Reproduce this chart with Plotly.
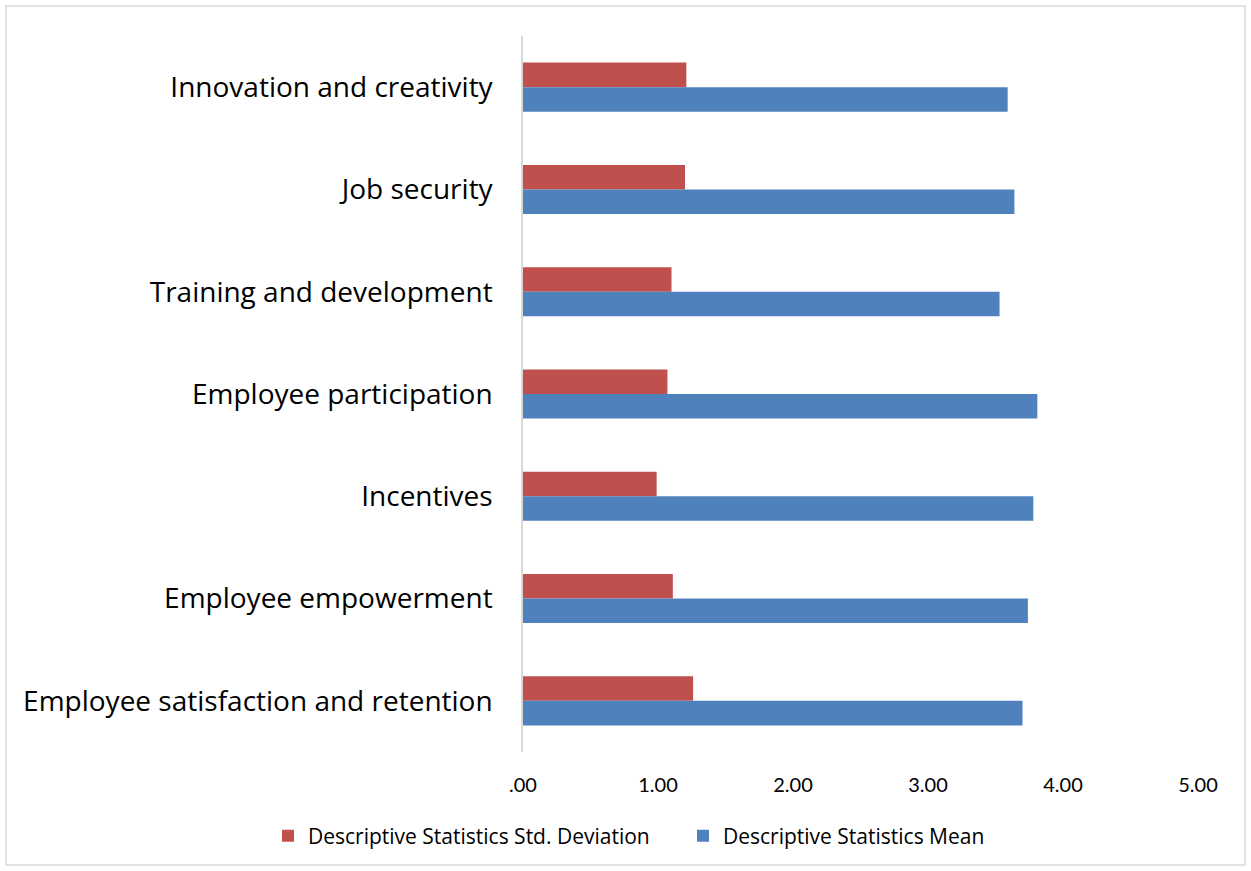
import plotly.graph_objects as go

categories = [
    "Innovation and creativity",
    "Job security",
    "Training and development",
    "Employee participation",
    "Incentives",
    "Employee empowerment",
    "Employee satisfaction and retention",
]
std_dev = [1.21, 1.20, 1.10, 1.07, 0.99, 1.11, 1.26]
mean = [3.59, 3.64, 3.53, 3.81, 3.78, 3.74, 3.70]
tick_vals = [0, 1, 2, 3, 4, 5]
tick_text = [".00", "1.00", "2.00", "3.00", "4.00", "5.00"]

W, H = 1251, 871
L, R, T, B = 523, 53, 36, 119
pw, ph = W - L - R, H - T - B

fig = go.Figure()
fig.add_trace(go.Bar(y=categories, x=std_dev, orientation="h",
                     name="Descriptive Statistics Std. Deviation",
                     marker=dict(color="#C0504D", line=dict(width=0))))
fig.add_trace(go.Bar(y=categories, x=mean, orientation="h",
                     name="Descriptive Statistics Mean",
                     marker=dict(color="#4F81BD", line=dict(width=0))))

lato = "Lato, 'Open Sans', sans-serif"
opensans = "'Open Sans', Lato, sans-serif"
fig.update_layout(
    width=W, height=H,
    margin=dict(l=L, r=R, t=T, b=B, autoexpand=False),
    paper_bgcolor="white", plot_bgcolor="white",
    barmode="group", bargap=0.52, bargroupgap=0,
    font=dict(family=lato, color="#000000"),
    showlegend=True,
    legend=dict(orientation="h", xref="paper", yref="paper",
                x=(268 - L) / pw, xanchor="left",
                y=(H - B - 836) / ph, yanchor="middle",
                bgcolor="rgba(0,0,0,0)",
                font=dict(size=21, color="#000000", family=opensans),
                traceorder="normal", itemwidth=30,
                entrywidth=370, entrywidthmode="pixels"),
    xaxis=dict(range=[0, 5], tickvals=tick_vals, ticktext=tick_text,
               showgrid=False, zeroline=False, showline=False,
               tickfont=dict(size=20, color="#000000"),
               ticks="", ticklabelstandoff=19),
    yaxis=dict(autorange="reversed", showgrid=False, zeroline=False,
               showline=True, linecolor="#D9D9D9", linewidth=1.5,
               tickfont=dict(size=28, color="#000000", family=opensans),
               ticks="", ticklabelstandoff=23),
    shapes=[dict(type="rect", xref="paper", yref="paper",
                 x0=(6 - L) / pw, x1=(1245 - L) / pw,
                 y0=(H - B - 865) / ph, y1=(H - B - 6) / ph,
                 line=dict(color="#D9D9D9", width=1.5), fillcolor="rgba(0,0,0,0)")],
)

fig.write_html("out.html")
